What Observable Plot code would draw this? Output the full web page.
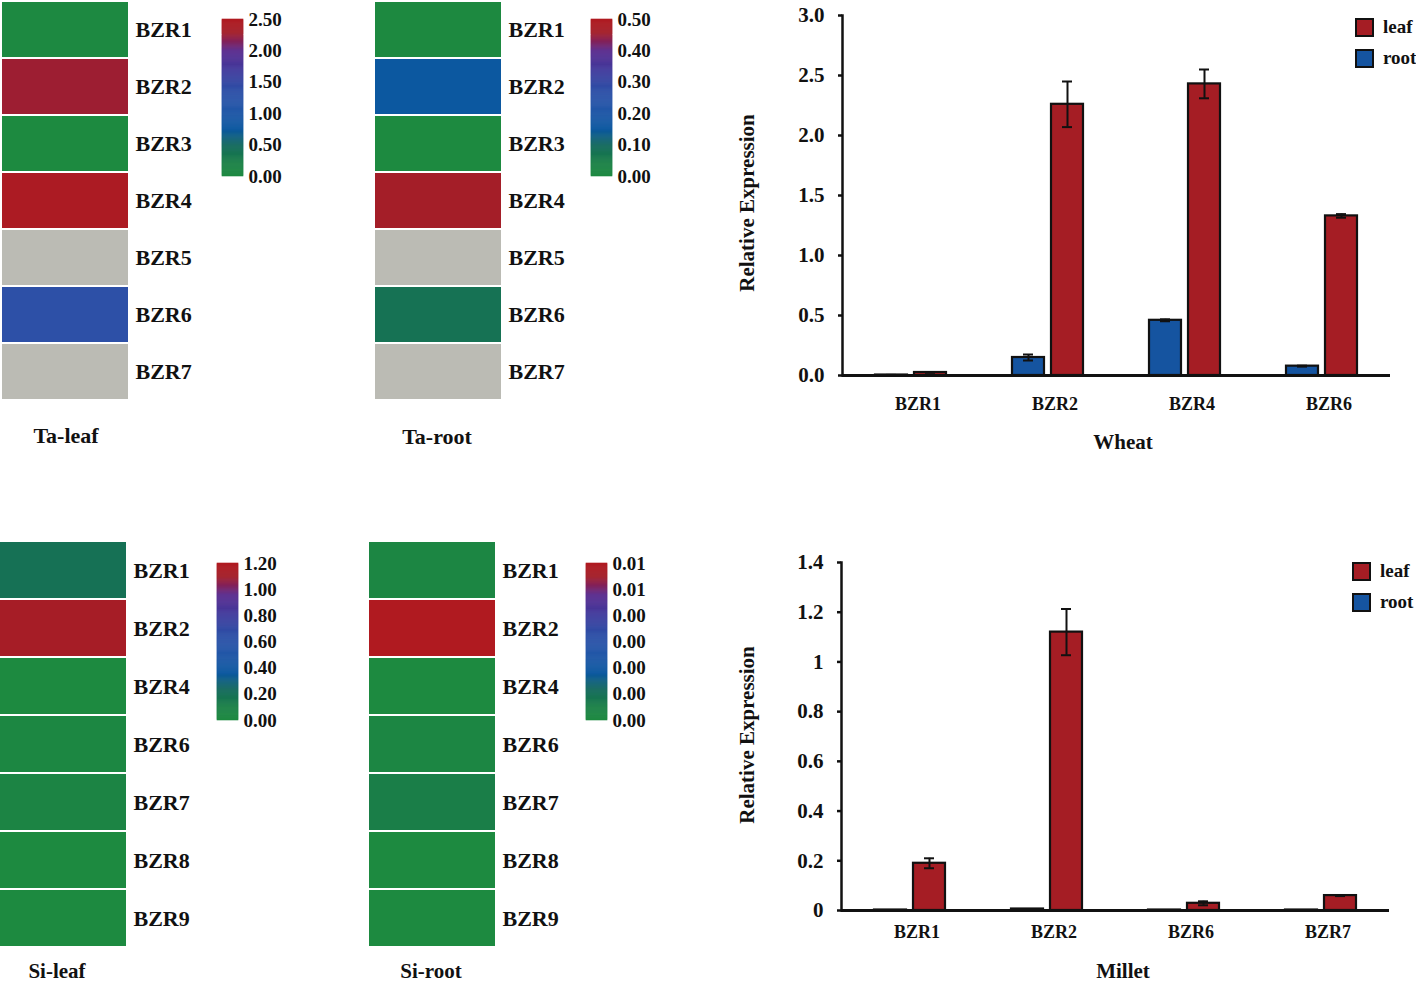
<!DOCTYPE html>
<html><head><meta charset="utf-8">
<script src="https://cdn.jsdelivr.net/npm/d3@7"></script>
<script src="https://cdn.jsdelivr.net/npm/@observablehq/plot@0.6"></script>
<style>
body{margin:0;background:#fff;}
#root{position:relative;width:1416px;height:985px;overflow:hidden;font-family:"Liberation Serif","Times New Roman",serif;font-weight:bold;color:#111;}
.abs{position:absolute;}
.abs svg{display:block;}
.title{position:absolute;font-size:22px;transform:translate(-50%,-50%);white-space:nowrap;line-height:1;}
.vtitle{position:absolute;font-size:21px;transform:translate(-50%,-50%) rotate(-90deg);white-space:nowrap;line-height:1;}
.leg{position:absolute;font-size:19px;line-height:18px;}
.leg .row{display:flex;align-items:center;height:18px;margin-bottom:13px;}
.leg .sw{width:15px;height:15px;border:2px solid #111;margin-right:9px;}
</style></head><body><div id="root"></div>
<script>
// ---------- data ----------
const taGenes = ["BZR1","BZR2","BZR3","BZR4","BZR5","BZR6","BZR7"];
const taLeafValues = [0.02, 2.26, 0, 2.43, null, 1.33, null];
const taRootValues = [0.003, 0.15, 0, 0.46, null, 0.078, null];
const siGenes = ["BZR1","BZR2","BZR4","BZR6","BZR7","BZR8","BZR9"];
const siLeafValues = [0.19, 1.12, 0, 0.029, 0.06, 0, 0];
const siRootValues = [0.0002, 0.006, 0, 0.0002, 0.0006, 0, 0];

const taLeafTicks = [0, 0.5, 1, 1.5, 2, 2.5];
const taLeafTickLabels = ["0.00","0.50","1.00","1.50","2.00","2.50"];
const taRootTicks = [0, 0.1, 0.2, 0.3, 0.4, 0.5];
const taRootTickLabels = ["0.00","0.10","0.20","0.30","0.40","0.50"];
const siLeafTicks = [0, 0.2, 0.4, 0.6, 0.8, 1.0, 1.2];
const siLeafTickLabels = ["0.00","0.20","0.40","0.60","0.80","1.00","1.20"];
const siRootTicks = [0, 0.001, 0.002, 0.003, 0.004, 0.005, 0.006];
const siRootTickLabels = ["0.00","0.00","0.00","0.00","0.00","0.01","0.01"];

const tissues = ["leaf", "root"];
const wheatGenes = ["BZR1","BZR2","BZR4","BZR6"];
const wheatLeaf = [0.025, 2.26, 2.43, 1.33];
const wheatLeafErr = [0.002, 0.19, 0.12, 0.015];
const wheatRoot = [0.004, 0.15, 0.46, 0.078];
const wheatRootErr = [0.001, 0.025, 0.008, 0.004];
const wheatTicks = [0, 0.5, 1, 1.5, 2, 2.5, 3];
const wheatTickLabels = ["0.0","0.5","1.0","1.5","2.0","2.5","3.0"];

const milletGenes = ["BZR1","BZR2","BZR6","BZR7"];
const milletLeaf = [0.19, 1.12, 0.029, 0.06];
const milletLeafErr = [0.02, 0.093, 0.008, 0.002];
const milletRoot = [0.002, 0.006, 0.002, 0.002];
const milletRootErr = [0, 0, 0, 0];
const milletTicks = [0, 0.2, 0.4, 0.6, 0.8, 1, 1.2, 1.4];
const milletTickLabels = ["0","0.2","0.4","0.6","0.8","1","1.2","1.4"];

// ---------- styles ----------
const FONT = '"Liberation Serif","Times New Roman",serif';
const GRAY = "#bbbbb4";
const RED = "#a51d24";
const BLUE = "#1554a0";
const INK = "#111";
const RAMP_COLORS = ["#1d8a40", "#1a7e48", "#13685e", "#0c58a0", "#2757a9", "#2e4fa6", "#3d3f9f", "#5a2b8e", "#8a2050", "#a31e28", "#b01a20"];
const RAMP_T      = [0,          0.1,       0.2,       0.3,       0.45,      0.55,      0.65,      0.8,       0.87,      0.915,     1];
const RAMP = d3.piecewise(d3.interpolateRgb, RAMP_COLORS);
const ramp = t => {
  for (let i = 1; i < RAMP_T.length; i++) {
    if (t <= RAMP_T[i]) {
      const a = RAMP_T[i-1], b = RAMP_T[i];
      return RAMP(((i-1) + (t - a) / (b - a)) / (RAMP_T.length - 1));
    }
  }
  return RAMP(1);
};

const root = document.getElementById("root");
function place(node, left, top) {
  const d = document.createElement("div");
  d.className = "abs";
  d.style.left = left + "px";
  d.style.top = top + "px";
  d.appendChild(node);
  root.appendChild(d);
}
function title(text, x, y, size = 22, cls = "title") {
  const d = document.createElement("div");
  d.className = cls;
  d.style.left = x + "px";
  d.style.top = y + "px";
  d.style.fontSize = size + "px";
  d.textContent = text;
  root.appendChild(d);
}

function heatmap({genes, values, max, left, top, height}) {
  const data = genes.map((g, i) => ({gene: g, v: values[i]}));
  const svg = Plot.plot({
    width: 126 + 80, height, margin: 0, marginRight: 80,
    style: {fontFamily: FONT, fontWeight: "bold", background: "transparent", color: INK, overflow: "visible"},
    y: {domain: genes, padding: 0, axis: null},
    color: {type: "linear", domain: [0, max], interpolate: ramp},
    marks: [
      Plot.cell(data, {y: "gene", fill: GRAY, insetTop: 1, insetBottom: 1}),
      Plot.cell(data.filter(d => d.v != null), {y: "gene", fill: "v", insetTop: 1, insetBottom: 1}),
      Plot.axisY({anchor: "right", tickSize: 0, tickPadding: 7, fontSize: 22, fontWeight: "bold", fill: INK, label: null})
    ]
  });
  place(svg, left, top);
}

function colorBar({max, ticks, labels, left, top}) {
  const n = 150;
  const slices = d3.range(n).map(i => ({y1: max * i / n, y2: max * (i + 1) / n, v: max * (i + 0.5) / n}));
  const svg = Plot.plot({
    width: 21 + 60, height: 195, marginTop: 19, marginBottom: 19, marginLeft: 0, marginRight: 60,
    style: {fontFamily: FONT, fontWeight: "bold", background: "transparent", color: INK, overflow: "visible"},
    x: {domain: [0, 1], axis: null},
    y: {domain: [0, max]},
    color: {type: "linear", domain: [0, max], interpolate: ramp},
    marks: [
      Plot.rect(slices, {x1: 0, x2: 1, y1: "y1", y2: "y2", fill: "v", stroke: "v", strokeWidth: 0.6}),
      Plot.axisY({anchor: "right", ticks, tickFormat: d => labels[ticks.indexOf(d)], tickSize: 0, tickPadding: 5,
                  fontSize: 19, fontWeight: "bold", fill: INK, label: null})
    ]
  });
  place(svg, left, top);
}

function barChart({genes, leaf, leafErr, rootV, rootErr, ticks, labels, yMax, left, top, width, height,
                   marginTop, marginBottom, marginRight, fxPad}) {
  const data = [];
  genes.forEach((g, i) => {
    data.push({gene: g, tissue: "root", v: rootV[i], e: rootErr[i]});
    data.push({gene: g, tissue: "leaf", v: leaf[i], e: leafErr[i]});
  });
  const errs = data.filter(d => d.e > 0);
  const svg = Plot.plot({
    width, height, marginLeft: 100, marginTop, marginBottom, marginRight,
    style: {fontFamily: FONT, fontWeight: "bold", background: "transparent", color: INK, overflow: "visible"},
    fx: {domain: genes, padding: 0, label: null},
    x: {domain: ["root", "leaf"], paddingInner: 0.175, paddingOuter: 0.81, axis: null},
    y: {domain: [0, yMax]},
    color: {domain: tissues, range: [RED, BLUE]},
    marks: [
      Plot.barY(data, {fx: "gene", x: "tissue", y: "v", fill: "tissue", stroke: INK, strokeWidth: 2.2}),
      Plot.ruleX(errs, {fx: "gene", x: "tissue", y1: d => d.v - d.e, y2: d => d.v + d.e, stroke: INK, strokeWidth: 2}),
      Plot.tickY(errs, {fx: "gene", x: "tissue", y: d => d.v + d.e, stroke: INK, strokeWidth: 2, insetLeft: 11, insetRight: 11}),
      Plot.tickY(errs, {fx: "gene", x: "tissue", y: d => d.v - d.e, stroke: INK, strokeWidth: 2, insetLeft: 11, insetRight: 11}),
      Plot.ruleY([0], {stroke: INK, strokeWidth: 3}),
      Plot.frame({anchor: "left", facetAnchor: "left", stroke: INK, strokeWidth: 2.5}),
      Plot.axisY({ticks, tickFormat: d => labels[ticks.indexOf(d)], tickSize: 4, tickPadding: 14, strokeWidth: 2.5,
                  fontSize: 21, fontWeight: "bold", fill: INK, stroke: INK, label: null}),
      Plot.axisFx({anchor: "bottom", tickSize: 0, tickPadding: fxPad, dx: 7, fontSize: 18, fontWeight: "bold", fill: INK, label: null})
    ]
  });
  place(svg, left, top);
}

function barLegend(left, top) {
  const d = document.createElement("div");
  d.className = "leg";
  d.style.left = left + "px";
  d.style.top = top + "px";
  const colors = {leaf: RED, root: BLUE};
  tissues.forEach(t => {
    const r = document.createElement("div");
    r.className = "row";
    const s = document.createElement("div");
    s.className = "sw";
    s.style.background = colors[t];
    const l = document.createElement("span");
    l.textContent = t;
    r.appendChild(s); r.appendChild(l);
    d.appendChild(r);
  });
  root.appendChild(d);
}

// ---------- heatmaps ----------
heatmap({genes: taGenes, values: taLeafValues, max: 2.5, left: 2, top: -2, height: 404});
heatmap({genes: taGenes, values: taRootValues, max: 0.5, left: 375, top: -2, height: 405});
heatmap({genes: siGenes, values: siLeafValues, max: 1.2, left: 0, top: 541, height: 406});
heatmap({genes: siGenes, values: siRootValues, max: 0.006, left: 369, top: 541, height: 406});

colorBar({max: 2.5, ticks: taLeafTicks, labels: taLeafTickLabels, left: 222, top: 0});
colorBar({max: 0.5, ticks: taRootTicks, labels: taRootTickLabels, left: 591, top: 0});
colorBar({max: 1.2, ticks: siLeafTicks, labels: siLeafTickLabels, left: 217, top: 544});
colorBar({max: 0.006, ticks: siRootTicks, labels: siRootTickLabels, left: 586, top: 544});

title("Ta-leaf", 66, 436);
title("Ta-root", 437, 437);
title("Si-leaf", 57, 971, 21);
title("Si-root", 431, 971, 21);

// ---------- bar charts ----------
barChart({genes: wheatGenes, leaf: wheatLeaf, leafErr: wheatLeafErr, rootV: wheatRoot, rootErr: wheatRootErr,
  ticks: wheatTicks, labels: wheatTickLabels, yMax: 3, left: 740, top: 0, width: 676, height: 460,
  marginTop: 15, marginBottom: 85, marginRight: 25, fxPad: 22});
barChart({genes: milletGenes, leaf: milletLeaf, leafErr: milletLeafErr, rootV: milletRoot, rootErr: milletRootErr,
  ticks: milletTicks, labels: milletTickLabels, yMax: 1.4, left: 740, top: 545, width: 676, height: 440,
  marginTop: 17, marginBottom: 75, marginRight: 26, fxPad: 15});

title("Relative Expression", 747, 203, 21, "vtitle");
title("Relative Expression", 747, 735, 21, "vtitle");
title("Wheat", 1123, 442, 21);
title("Millet", 1123, 971, 21);

barLegend(1355, 18);
barLegend(1352, 562);
</script></body></html>
